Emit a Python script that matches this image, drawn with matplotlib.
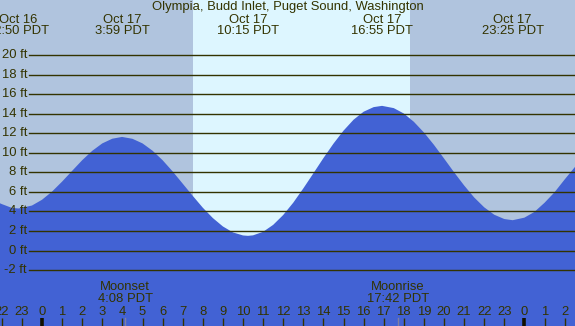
import matplotlib
matplotlib.use("Agg")
import matplotlib.pyplot as plt
import matplotlib.transforms as mtransforms

# ---- data ----
title = "Olympia, Budd Inlet, Puget Sound, Washington"
tide_hours = [-3, -2.5, -2, -1.5, -1.167, -0.5, 0, 0.5, 1, 1.5, 2, 2.5, 3, 3.5,
              3.983, 4.5, 5, 5.5, 6, 6.5, 7, 7.5, 8, 8.5, 9, 9.5, 10, 10.25,
              10.5, 11, 11.5, 12, 12.5, 13, 13.5, 14, 14.5, 15, 15.5, 16, 16.5,
              16.917, 17.5, 18, 18.5, 19, 19.5, 20, 20.5, 21, 21.5, 22, 22.5,
              23, 23.417, 24, 24.5, 25, 25.5, 26, 26.5, 27]
tide_heights = [5.9, 5.2, 4.75, 4.36, 4.3, 4.6, 5.19, 6.03, 7.05, 8.15, 9.24,
                10.2, 10.96, 11.44, 11.62, 11.43, 10.96, 10.21, 9.24, 8.09, 6.84,
                5.59, 4.38, 3.32, 2.46, 1.85, 1.54, 1.5, 1.55, 1.91, 2.62, 3.63,
                4.89, 6.35, 7.89, 9.45, 10.93, 12.26, 13.38, 14.2, 14.67, 14.8,
                14.57, 14.02, 13.17, 12.08, 10.81, 9.42, 8.01, 6.66, 5.43, 4.42,
                3.66, 3.22, 3.1, 3.36, 3.95, 4.88, 5.96, 7.26, 8.51, 9.77]
extreme_hours = [-1.167, 3.983, 10.25, 16.917, 23.417]
extreme_labels = ["Oct 16\n22:50 PDT", "Oct 17\n3:59 PDT", "Oct 17\n10:15 PDT",
                  "Oct 17\n16:55 PDT", "Oct 17\n23:25 PDT"]
sunrise_hour = 7.5
sunset_hour = 18.3
moon_hours = [4.133, 17.7]
moon_labels = ["Moonset\n4:08 PDT", "Moonrise\n17:42 PDT"]
grid_levels = [-2, 0, 2, 4, 6, 8, 10, 12, 14, 16, 18, 20]
hour_ticks = list(range(-2, 27))

# ---- style ----
night_c = "#B0C4DE"
day_c = "#DDF6FF"
water_c = "#4262D4"
ink = "#333300"
font = ["Liberation Sans", "DejaVu Sans"]
fs = 9.4

W, H = 575, 326
fig = plt.figure(figsize=(W / 100, H / 100), dpi=100)
ax = fig.add_axes([0, 0, 1, 1])
ax.set_axis_off()

px_per_hr = 20.1
x0_px = 42.0
ft0_px = 250.5
px_per_ft = 9.773
xmin = -x0_px / px_per_hr
xmax = (W - x0_px) / px_per_hr
ymin = -(H - ft0_px) / px_per_ft
ymax = ft0_px / px_per_ft
ax.set_xlim(xmin, xmax)
ax.set_ylim(ymin, ymax)

def ypx(p):
    # convert pixel row (from top) to axes fraction
    return 1 - p / H

blend = mtransforms.blended_transform_factory(ax.transData, ax.transAxes)

# backgrounds
ax.axvspan(xmin - 5, sunrise_hour, color=night_c, lw=0, zorder=0)
ax.axvspan(sunrise_hour, sunset_hour, color=day_c, lw=0, zorder=0)
ax.axvspan(sunset_hour, xmax + 5, color=night_c, lw=0, zorder=0)

# water
ax.fill_between(tide_hours, tide_heights, ymin - 5, color=water_c, lw=0, zorder=1)

# grid lines and labels
for lv in grid_levels:
    ax.plot([(29 - x0_px) / px_per_hr, xmax + 1], [lv, lv], color=ink, lw=1.0, zorder=2)
    ax.text((27 - x0_px) / px_per_hr, lv, f"{lv} ft", ha="right", va="center",
            fontsize=fs, color=ink, family=font, zorder=3)

# title
ax.text(0.5, ypx(7), title, transform=ax.transAxes, ha="center", va="center",
        fontsize=fs, color=ink, family=font, zorder=3)

# extreme labels
for h, lab in zip(extreme_hours, extreme_labels):
    ax.text(h, ypx(25.5), lab, transform=blend, ha="center", va="center",
            fontsize=fs, color=ink, family=font, linespacing=0.95, zorder=3)

# moon labels and ticks
for h, lab in zip(moon_hours, moon_labels):
    ax.text(h, ypx(293), lab, transform=blend, ha="center", va="center",
            fontsize=fs, color=ink, family=font, linespacing=0.95, zorder=3)
    ax.plot([h, h], [ypx(318), ypx(326)], transform=blend, color="#8080a0",
            lw=1.0, zorder=2)

# hour ticks
for h in hour_ticks:
    ax.text(h, ypx(312), str(h % 24), transform=blend, ha="center", va="center",
            fontsize=fs, color=ink, family=font, zorder=3)
    if h % 24 == 0:
        ax.plot([h, h], [ypx(318), ypx(326)], transform=blend, color="#111100",
                lw=2.6, solid_capstyle="butt", zorder=3)
    else:
        ax.plot([h, h], [ypx(318), ypx(326)], transform=blend, color=ink,
                lw=1.0, solid_capstyle="butt", zorder=3)

fig.savefig("out.png", dpi=100)
